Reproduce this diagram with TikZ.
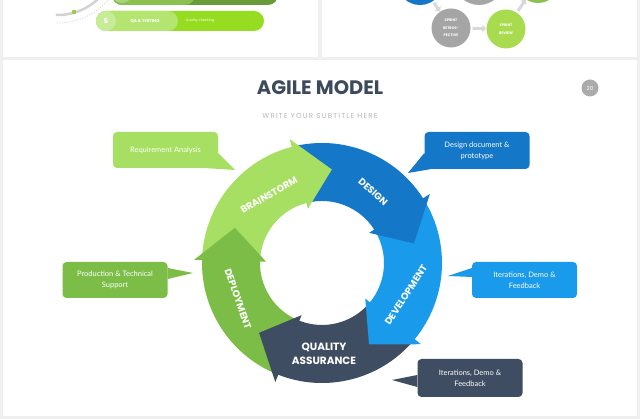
\documentclass[tikz,border=0pt]{standalone}
\usepackage{fontspec}
\setmainfont{Lato}
\newfontfamily\poppins{Poppins}
\newfontfamily\popsub[LetterSpace=16]{Poppins}
\usepackage{tikz}
\usetikzlibrary{arrows.meta,positioning,calc}
\definecolor{agpage}{HTML}{EFEFEF}
\definecolor{agbrain}{HTML}{A6DF62}
\definecolor{agdeploy}{HTML}{7CBD48}
\definecolor{agdesign}{HTML}{1577C7}
\definecolor{agdevel}{HTML}{1A9AEA}
\definecolor{agqa}{HTML}{3E4D62}
\definecolor{agtitle}{HTML}{3D4A5C}
\definecolor{agsub}{HTML}{B8B8B8}
\definecolor{agbadge}{HTML}{ABABAB}
\definecolor{agarc}{HTML}{D3D3D3}
\definecolor{agdot}{HTML}{9ACD4F}
\definecolor{agbardark}{HTML}{6A9B3A}
\definecolor{agbarmid}{HTML}{8CC152}
\definecolor{agbarpale}{HTML}{A9D57A}
\definecolor{aglime}{HTML}{96DD22}
\definecolor{aglimepale}{HTML}{B3E570}
\definecolor{aglimedot}{HTML}{C6EC97}
\definecolor{agsprgray}{HTML}{A5A5A5}
\definecolor{agsprlime}{HTML}{A8DC4E}
\definecolor{agsprgreen}{HTML}{8CC152}
\definecolor{agflow}{HTML}{D8D8D8}

\tikzset{
  callbox/.style={rounded corners=4pt, minimum width=105pt, minimum height=36pt,
    inner sep=2pt, align=center, text=white, font=\fontsize{7.5}{11}\selectfont},
  ringlabel/.style={text=white, inner sep=0pt, font=\poppins\bfseries\fontsize{9.6}{11}\selectfont},
  sprintdot/.style={circle, inner sep=0pt, align=center, text=white,
    font=\poppins\bfseries\fontsize{3.6}{7.5}\selectfont},
  flowarrow/.style={agflow, line width=3pt, -{Triangle[length=4pt,width=7pt]},
    shorten <=2pt},
  bartext/.style={text=white, inner sep=0pt}
}

\begin{document}
\begin{tikzpicture}[x=1pt,y=1pt]
\useasboundingbox (0,0) rectangle (640,419);
\clip (0,0) rectangle (640,419);
% page and panels
\fill[agpage] (0,0) rectangle (640,419);
\fill[white] (3,362) rectangle (318,422);
\fill[white] (322,362) rectangle (637,422);
\fill[white] (3,3) rectangle (637,359);

% top left slide (cut off)
\draw[agarc, line width=2.5pt] (58,462) ++(-92:58) arc[start angle=-92, end angle=-45, radius=58];
\draw[agarc, line width=0.8pt, dash pattern=on 1pt off 1.6pt] (58,462) ++(-91:66) arc[start angle=-91, end angle=-38, radius=66];
\fill[agdot] (74,407) circle (2.3);
\fill[agbardark, rounded corners=10pt] (112,414) rectangle (278,440);
\fill[agbarmid, rounded corners=10pt] (112,414) rectangle (195,440);
\fill[agbarpale] (122,426) circle (10);
\fill[aglime, rounded corners=10pt] (96,388) rectangle (264,408);
\fill[aglimepale, rounded corners=10pt] (96,388) rectangle (178,408);
\fill[aglimedot] (106,398) circle (10);
\node[bartext, font=\poppins\bfseries\fontsize{7}{8}\selectfont] (qanum) at (106,398) {5};
\node[bartext, font=\poppins\bfseries\fontsize{4.2}{5}\selectfont] (qatitle) at (145,398) {QA \& TESTING};
\node[bartext, font=\poppins\fontsize{3.4}{4}\selectfont] (qadesc) at (200,398) {Quality checking};

% top right slide (cut off)
\node[sprintdot, fill=agdesign, minimum size=46pt] (sblue) at (420,437) {};
\node[sprintdot, fill=agsprgray, minimum size=50pt] (sgray) at (479,439) {};
\node[sprintdot, fill=agsprgreen, minimum size=44pt] (sgreen) at (538,438) {};
\node[sprintdot, fill=agsprgray, minimum size=39pt] (retro) at (451,391) {SPRINT\\RETROS-\\PECTIVE};
\node[sprintdot, fill=agsprlime, minimum size=39pt] (review) at (506,390) {SPRINT\\REVIEW};
\draw[flowarrow] (sblue) -- (retro);
\draw[flowarrow] (retro) -- (review);
\draw[flowarrow] (review) -- (sgreen);

% title
\node[text=agtitle, font=\poppins\bfseries\fontsize{19.5}{22}\selectfont] (title) at (320,331) {AGILE MODEL};
\node[text=agsub, font=\popsub\fontsize{7.2}{8}\selectfont] (subtitle) at (320,303.5) {WRITE YOUR SUBTITLE HERE};
\node[circle, fill=agbadge, minimum size=17pt, inner sep=0pt, text=white,
      font=\poppins\fontsize{5.5}{6}\selectfont] (badge) at (590,331) {20};

% ring
\coordinate (ctr) at (322,156);
\foreach \s/\b/\c in {178/104/agbrain, 104/32/agdesign, 32/-40/agdevel, -40/-112/agqa, -112/-182/agdeploy} {
  \fill[\c] ($(ctr)+(\s:120)$) arc[start angle=\s, end angle=\b, radius=120]
    -- ($(ctr)+(\b:62)$) arc[start angle=\b, end angle=\s, radius=62] -- cycle;
}
\foreach \b/\c in {104/agbrain, 32/agdesign, -40/agdevel, -112/agqa, -182/agdeploy} {
  \fill[\c] ($(ctr)+(\b+0.6:128)$) -- ($(ctr)+(\b-20:94)$) -- ($(ctr)+(\b+0.6:56)$) -- cycle;
}
\node[ringlabel, rotate=30] (brainlbl) at (269,224) {BRAINSTORM};
\node[ringlabel, rotate=-42] (designlbl) at (373,227) {DESIGN};
\node[ringlabel, rotate=57] (devellbl) at (406,124) {DEVELOPMENT};
\node[ringlabel, rotate=-71] (deploylbl) at (238,120) {DEPLOYMENT};
\node[text=white, align=center, font=\poppins\bfseries\fontsize{10.5}{14}\selectfont] (qalbl) at (324,65) {QUALITY\\ASSURANCE};

% callouts
\node[callbox, fill=agbrain] (req) at (165.5,269) {Requirement Analysis};
\coordinate (reqtip) at (235,249);
\fill[agbrain] ([yshift=-3pt]req.east) -- (reqtip) -- ([xshift=-11pt]req.south east) -- cycle;

\node[callbox, fill=agdeploy] (prod) at (115,139) {Production \& Technical\\Support};
\coordinate (prodtip) at (193,146);
\fill[agdeploy] ([yshift=12pt]prod.east) -- (prodtip) -- ([yshift=1pt]prod.east) -- cycle;

\node[callbox, fill=agdesign, minimum height=37pt] (dsgn) at (477,268.5) {Design document \&\\prototype};
\coordinate (dsgntip) at (408,246);
\fill[agdesign] ([yshift=-2.5pt]dsgn.west) -- (dsgntip) -- ([xshift=6pt]dsgn.south west) -- cycle;

\node[callbox, fill=agdevel] (iterb) at (524.5,139) {Iterations, Demo \&\\Feedback};
\coordinate (iterbtip) at (448,143);
\fill[agdevel] ([yshift=12pt]iterb.west) -- (iterbtip) -- ([yshift=3pt]iterb.west) -- cycle;

\node[callbox, fill=agqa, minimum height=38pt] (iterd) at (470,41) {Iterations, Demo \&\\Feedback};
\coordinate (iterdtip) at (392,39);
\fill[agqa] ([yshift=3pt]iterd.west) -- (iterdtip) -- ([yshift=-9pt]iterd.west) -- cycle;
\end{tikzpicture}
\end{document}
